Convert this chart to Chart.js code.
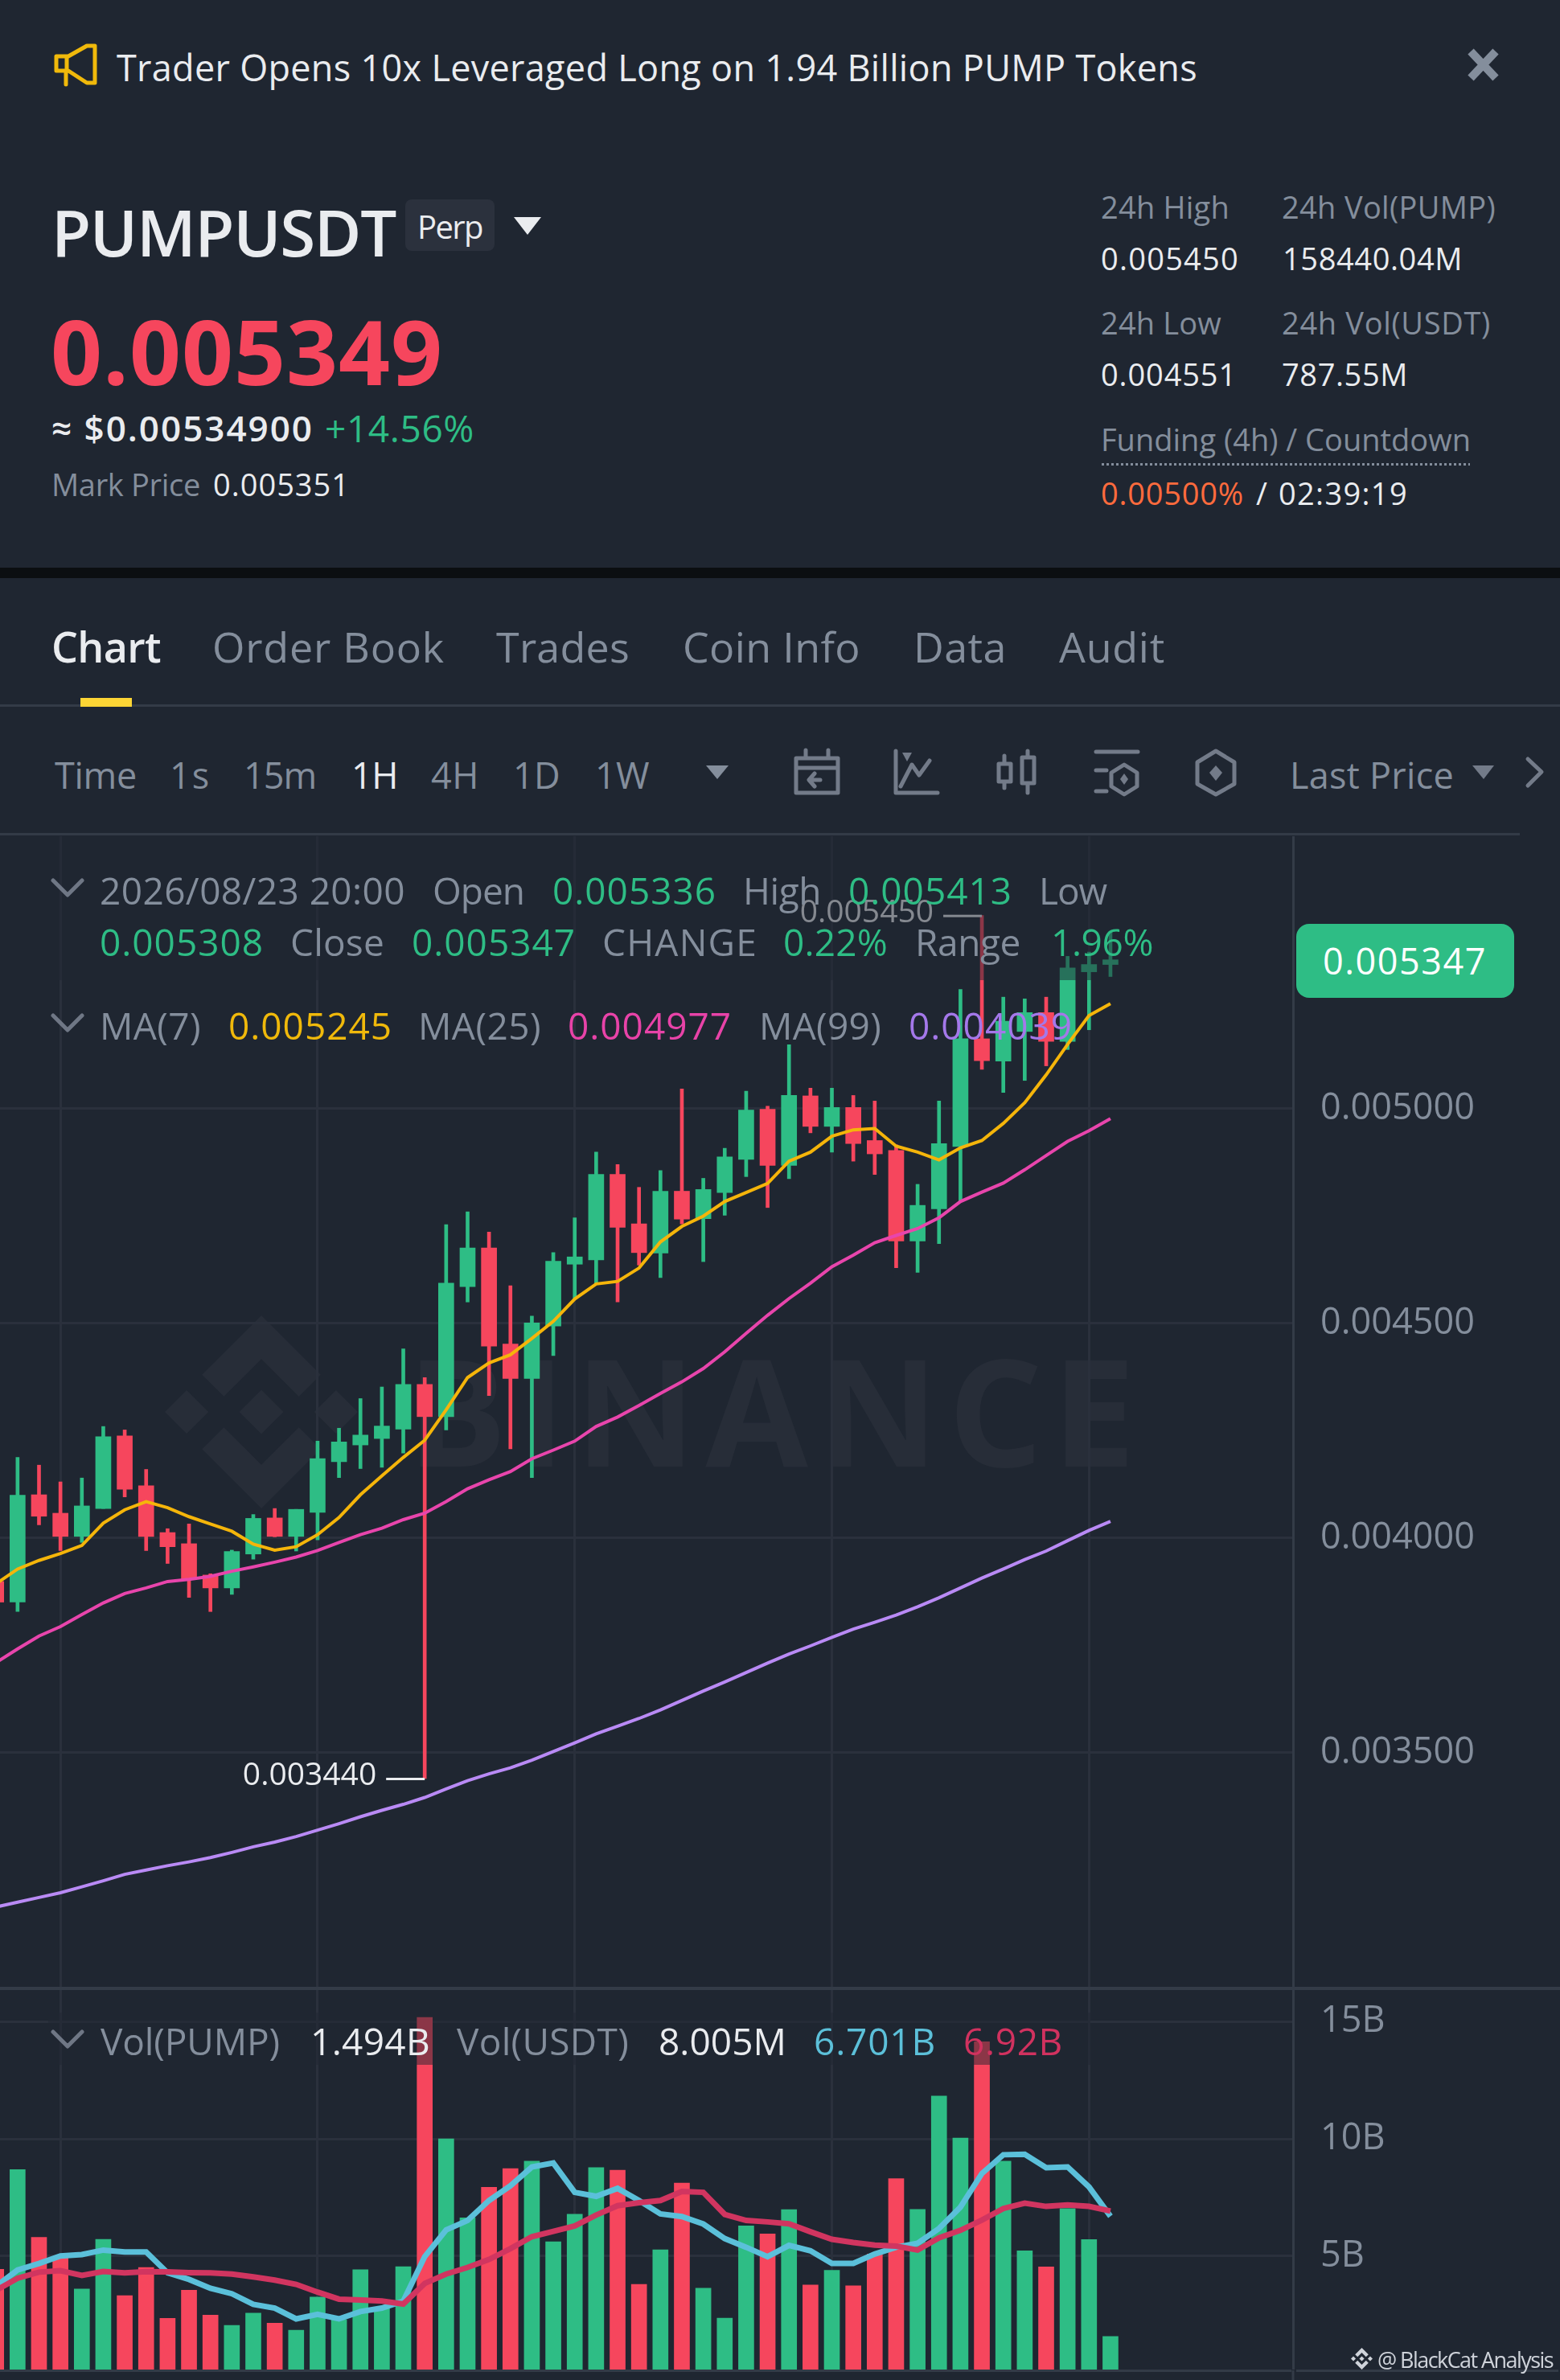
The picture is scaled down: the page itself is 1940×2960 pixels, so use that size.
<!DOCTYPE html>
<html>
<head>
<meta charset="utf-8">
<title>PUMPUSDT</title>
<script src="https://cdn.jsdelivr.net/npm/chart.js@4"></script>
<style>
    html, body { margin: 0; padding: 0; background: #1f2631; }
    #page { position: relative; width: 1940px; height: 2960px; overflow: hidden; background: #1f2631; font-family: "Open Sans", sans-serif; }
    #page canvas { position: absolute; left: 0; }
    .t { position: absolute; white-space: nowrap; line-height: 1; transform: translateY(-50%); }
    .bar { position: absolute; }
</style>
</head>
<body>
<div id="page">
    <canvas id="priceChart" width="1940" height="1432" style="top:1040px;z-index:1"></canvas>
    <canvas id="volumeChart" width="1940" height="472" style="top:2475px;z-index:1"></canvas>
    <svg id="icons" width="1940" height="2960" viewBox="0 0 1940 2960" style="position:absolute;left:0;top:0;z-index:4" fill="none" stroke-linejoin="round" stroke-linecap="round">
        <!-- notice -->
        <path d="M70 70h15L108 57h10v46h-10L85 88H70zM83 70v18M82 88v17" stroke="#f0b90b" stroke-width="5"/>
        <!-- close -->
        <path d="M1829 64l31 33M1860 64l-31 33" stroke="#848e9c" stroke-width="10" stroke-linecap="butt"/>
        <!-- symbol arrow -->
        <path d="M639 270h34l-17 22z" fill="#eaecef"/>
        <!-- toolbar -->
        <path d="M878 952h28l-14 17z" fill="#848e9c"/>
        <path d="M990 943h52v43h-52zM990 955h52M1002 933v9M1030 933v9M1020 970h-13M1013 962l-7 8 7 8" stroke="#737b89" stroke-width="5"/>
        <path d="M1114 934v52h52M1120 978l14-27 9 13 13-18" stroke="#737b89" stroke-width="5"/>
        <path d="M1122 936h12l-6 11z" fill="#737b89"/>
        <path d="M1242 950h15v22h-15zM1249 940v10M1249 972v8M1271 942h15v32h-15zM1278 934v8M1278 974v12" stroke="#737b89" stroke-width="5"/>
        <path d="M1363 935h52M1363 958h13M1363 984h13M1398 951l16 10v17l-16 10-16-10v-17z" stroke="#737b89" stroke-width="5"/>
        <path d="M1398 962l5 7-5 7-5-7z" fill="#737b89"/>
        <path d="M1512 934l23 14v27l-23 13-23-13v-27z" stroke="#737b89" stroke-width="5"/>
        <path d="M1512 952l8 9-8 10-8-10z" fill="#737b89"/>
        <path d="M1831 952h27l-13 17z" fill="#737b89"/>
        <path d="M1900 944l17 16-17 17" stroke="#737b89" stroke-width="5"/>
        <!-- legend chevrons -->
        <path d="M66 1095l18 18 18-18M66 1263l18 18 18-18M66 2527l18 18 18-18" stroke="#6f7785" stroke-width="5"/>
        <!-- funding dots -->
        <path d="M1370 577.5h458" stroke="#848e9c" stroke-width="3" stroke-dasharray="3 3" stroke-linecap="butt"/>
        <!-- axis foot -->
        <path d="M1608 2948v12" stroke="#333b47" stroke-width="3" stroke-linecap="butt"/>
    </svg>
</div>

<script>
// Candles, index 52 is 2026/08/23 20:00
const opens = [0.003899,0.003851,0.004101,0.004058,0.004004,0.004069,0.004238,0.004122,0.004013,0.003987,0.003914,0.003884,0.003963,0.004047,0.004004,0.004060,0.004178,0.004217,0.004232,0.004254,0.004358,0.004283,0.004586,0.004676,0.004452,0.004372,0.004494,0.004638,0.004648,0.004847,0.004732,0.004664,0.004808,0.004744,0.004805,0.004882,0.004999,0.004868,0.005030,0.004959,0.005003,0.004926,0.004903,0.004692,0.004767,0.004912,0.005163,0.005111,0.005180,0.005224,0.005157,0.005319,0.005336];
const highs = [0.003920,0.004188,0.004170,0.004131,0.004140,0.004260,0.004252,0.004160,0.004022,0.004033,0.003917,0.003972,0.004055,0.004069,0.004067,0.004226,0.004256,0.004325,0.004352,0.004441,0.004374,0.004730,0.004760,0.004713,0.004588,0.004517,0.004665,0.004746,0.004899,0.004870,0.004817,0.004856,0.005046,0.004838,0.004908,0.005041,0.005006,0.005149,0.005048,0.005048,0.005031,0.005018,0.004916,0.004824,0.005018,0.005278,0.005450,0.005260,0.005256,0.005260,0.005355,0.005365,0.005413];
const lows = [0.003830,0.003829,0.004031,0.003971,0.003990,0.004069,0.004096,0.003971,0.003941,0.003862,0.003829,0.003869,0.003951,0.004003,0.003970,0.003996,0.004141,0.004162,0.004165,0.004198,0.003440,0.004252,0.004550,0.004332,0.004208,0.004141,0.004425,0.004557,0.004594,0.004550,0.004636,0.004607,0.004732,0.004644,0.004752,0.004842,0.004770,0.004837,0.004944,0.004899,0.004878,0.004847,0.004630,0.004619,0.004686,0.004784,0.005092,0.005038,0.005066,0.005100,0.005138,0.005184,0.005308];
const closes = [0.003851,0.004100,0.004051,0.004004,0.004075,0.004236,0.004114,0.004004,0.003980,0.003904,0.003884,0.003969,0.004046,0.004004,0.004067,0.004185,0.004224,0.004240,0.004261,0.004358,0.004283,0.004594,0.004676,0.004447,0.004372,0.004501,0.004645,0.004655,0.004847,0.004724,0.004665,0.004808,0.004743,0.004812,0.004888,0.004997,0.004868,0.005031,0.004959,0.005003,0.004919,0.004895,0.004692,0.004775,0.004919,0.005163,0.005112,0.005204,0.005224,0.005157,0.005328,0.005336,0.005347];

const ma7 = [0.003894,0.003928,0.003948,0.003964,0.003983,0.004035,0.004066,0.004085,0.004071,0.004050,0.004033,0.004016,0.003986,0.003972,0.003980,0.004008,0.004048,0.004101,0.004145,0.004188,0.004228,0.004299,0.004374,0.004408,0.004427,0.004465,0.004505,0.004557,0.004592,0.004598,0.004629,0.004690,0.004726,0.004750,0.004784,0.004805,0.004826,0.004878,0.004899,0.004936,0.004951,0.004954,0.004913,0.004899,0.004881,0.004909,0.004926,0.004966,0.005014,0.005079,0.005150,0.005217,0.005245];
const ma25 = [0.003710,0.003742,0.003772,0.003794,0.003822,0.003849,0.003871,0.003884,0.003899,0.003904,0.003911,0.003923,0.003933,0.003944,0.003956,0.003971,0.003990,0.004008,0.004023,0.004043,0.004058,0.004085,0.004115,0.004136,0.004155,0.004185,0.004205,0.004226,0.004260,0.004282,0.004309,0.004337,0.004364,0.004395,0.004434,0.004477,0.004519,0.004558,0.004594,0.004632,0.004659,0.004688,0.004705,0.004721,0.004746,0.004784,0.004806,0.004827,0.004858,0.004891,0.004924,0.004949,0.004977];
const ma99 = [0.003141,0.003152,0.003163,0.003174,0.003188,0.003202,0.003217,0.003227,0.003237,0.003246,0.003256,0.003268,0.003281,0.003292,0.003305,0.003320,0.003335,0.003351,0.003366,0.003380,0.003396,0.003416,0.003435,0.003451,0.003465,0.003483,0.003503,0.003523,0.003544,0.003562,0.003580,0.003600,0.003622,0.003644,0.003665,0.003687,0.003709,0.003730,0.003749,0.003769,0.003788,0.003804,0.003821,0.003840,0.003861,0.003884,0.003907,0.003928,0.003950,0.003970,0.003994,0.004018,0.004039];

// Volume in billions of PUMP
const volumes = [4.44,8.69,5.80,4.92,3.60,5.72,3.32,4.52,2.35,3.55,2.49,2.05,2.57,2.15,1.85,3.26,2.29,4.42,2.81,4.55,15.17,10.00,6.63,7.93,8.73,9.05,5.61,6.79,8.77,8.66,3.80,5.27,8.11,3.64,2.36,6.29,5.95,6.98,3.77,4.40,3.74,5.09,8.30,6.99,11.82,10.03,14.13,9.05,5.23,4.54,7.03,5.71,1.58];
const volMaShort = [3.72,4.41,4.69,5.01,5.07,5.26,5.18,5.18,4.29,4.01,3.63,3.40,2.95,2.79,2.33,2.52,2.33,2.64,2.79,3.09,4.98,6.12,6.52,7.37,8.00,8.80,8.97,7.72,7.55,7.89,7.37,6.80,6.69,6.37,5.75,5.38,4.98,5.46,5.23,4.69,4.69,5.09,5.38,5.55,6.18,7.09,8.52,9.32,9.34,8.77,8.80,7.95,6.70];
const volMaLong = [3.55,4.06,4.32,4.38,4.18,4.35,4.29,4.34,4.33,4.30,4.29,4.24,4.12,3.98,3.80,3.47,3.17,3.13,3.09,2.96,3.84,4.24,4.52,4.86,5.32,5.83,6.06,6.29,6.75,7.15,7.28,7.37,7.76,7.72,6.78,6.52,6.46,6.38,6.04,5.72,5.58,5.47,5.43,5.26,5.78,6.10,6.54,7.03,7.26,7.12,7.18,7.12,6.92];

// Axis ticks
const priceTicks = [0.0035, 0.004, 0.0045, 0.005];
const priceTickLabels = ['0.003500', '0.004000', '0.004500', '0.005000'];
const volumeTicks = [5, 10, 15];
const volumeTickLabels = ['5B', '10B', '15B'];
const gridCandles = [3, 15, 27, 39, 51];

const UP = '#2ebd85', DOWN = '#f6465d', GRID = '#2a303c', AXIS = '#333b47', TICK = '#848e9c';
const WHITE = '#eaecef', GRAY = '#848e9c';
const tickFont = { family: '"Open Sans"', size: 45 };

const candleColors = opens.map((o, i) => closes[i] >= o ? UP : DOWN);
const xy = arr => arr.map((v, i) => ({ x: i, y: v }));
const span = (a, b) => a.map((v, i) => ({ x: i, y: [v, b[i]] }));

function lineSet(label, arr, color, width, order) {
    return { type: 'line', label, data: xy(arr), borderColor: color, borderWidth: width, pointRadius: 0, tension: 0, order };
}

function xScale() {
    return {
        type: 'linear', min: 0.18, max: 60.52, offset: false,
        border: { display: false },
        ticks: { display: false },
        grid: { color: GRID, lineWidth: 3, drawTicks: false, offset: false },
        afterBuildTicks: s => { s.ticks = gridCandles.map(v => ({ value: v })); }
    };
}

function yScale(min, max, values, labels, padding) {
    return {
        position: 'right', min, max,
        border: { color: AXIS, width: 3 },
        grid: { color: GRID, lineWidth: 3, drawTicks: false },
        ticks: { color: TICK, font: tickFont, padding, callback: (v, i) => labels[i] },
        afterBuildTicks: s => { s.ticks = values.map(v => ({ value: v })); },
        // the plot has to fill the canvas, no room kept for half a label
        afterFit: s => { s.width = 332; s.paddingTop = 0; s.paddingBottom = 0; }
    };
}

// high / low marker text next to the wicks
const extremeLabels = {
    id: 'extremeLabels',
    afterDatasetsDraw(chart) {
        const { ctx, scales } = chart;
        const hi = highs.indexOf(Math.max(...highs));
        const lo = lows.indexOf(Math.min(...lows));
        ctx.save();
        ctx.font = '39px "Open Sans"';
        ctx.textAlign = 'right';
        ctx.textBaseline = 'middle';
        ctx.fillStyle = WHITE;
        [[hi, highs[hi]], [lo, lows[lo]]].forEach(([i, v]) => {
            const x = scales.x.getPixelForValue(i);
            const y = scales.y.getPixelForValue(v);
            ctx.fillRect(x - 48, y - 1, 48, 3);
            ctx.fillText(v.toFixed(6), x - 60, y - 3);
        });
        ctx.restore();
    }
};

new Chart(document.getElementById('priceChart'), {
    type: 'bar',
    data: {
        datasets: [
            { label: 'Wick', data: span(lows, highs), backgroundColor: candleColors, barThickness: 4, grouped: false, order: 5 },
            { label: 'Body', data: span(opens, closes), backgroundColor: candleColors, barThickness: 19, grouped: false, order: 4 },
            lineSet('MA(99)', ma99, '#b98af5', 4, 3),
            lineSet('MA(25)', ma25, '#e845ac', 4, 2),
            lineSet('MA(7)', ma7, '#f5b50a', 4, 1)
        ]
    },
    options: {
        responsive: false, animation: false, devicePixelRatio: 1,
        layout: { padding: 0 },
        plugins: { legend: { display: false }, tooltip: { enabled: false } },
        scales: { x: xScale(), y: yScale(0.0029531, 0.0056348, priceTicks, priceTickLabels, 34) }
    },
    plugins: [extremeLabels]
});

new Chart(document.getElementById('volumeChart'), {
    type: 'bar',
    data: {
        datasets: [
            { label: 'Vol(PUMP)', data: xy(volumes), backgroundColor: candleColors, barThickness: 19, grouped: false, order: 3 },
            lineSet('MA short', volMaShort, '#5bc0da', 7, 2),
            lineSet('MA long', volMaLong, '#d13560', 7, 1)
        ]
    },
    options: {
        responsive: false, animation: false, devicePixelRatio: 1,
        layout: { padding: 0 },
        plugins: { legend: { display: false }, tooltip: { enabled: false } },
        scales: { x: xScale(), y: yScale(0.171, 16.336, volumeTicks, volumeTickLabels, 34) }
    }
});

// Page furniture around the charts
const page = document.getElementById('page');

function box(x, y, w, h, bg, z, radius) {
    const d = document.createElement('div');
    d.className = 'bar';
    d.style.cssText = `left:${x}px;top:${y}px;width:${w}px;height:${h}px;background:${bg};z-index:${z};border-radius:${radius || 0}px`;
    page.appendChild(d);
}

// w is the width the text has in the reference, letter spacing takes up the rest
function txt(s, x, cy, size, color, w, weight, z = 3) {
    const d = document.createElement('div');
    d.className = 't';
    d.textContent = s;
    d.style.cssText = `left:${x}px;top:${cy}px;font-size:${size}px;color:${color};font-weight:${weight || 400};z-index:${z}`;
    page.appendChild(d);
    if (w) d.style.letterSpacing = ((w - d.getBoundingClientRect().width) / s.length) + 'px';
}

// watermark, under the canvases
const mark = document.createElementNS('http://www.w3.org/2000/svg', 'svg');
mark.setAttribute('viewBox', '0 0 126.61 126.61');
mark.setAttribute('style', 'position:absolute;left:205px;top:1636px;width:240px;height:240px;z-index:0');
mark.innerHTML = '<path fill="#272d38" d="M38.73 53.2l24.59-24.58 24.6 24.6 14.3-14.31L63.32 0 24.43 38.9zM0 63.31L14.3 49l14.31 14.31-14.31 14.3zm38.73 10.11l24.59 24.59 24.6-24.6 14.31 14.29-38.9 38.91-38.91-38.88-.02-.02zm59.27-10.1l14.3-14.31 14.3 14.3-14.3 14.3zM77.83 63.3L63.32 48.78 52.59 59.51l-1.24 1.23-2.54 2.54 14.51 14.5 14.5-14.47z"/>';
page.appendChild(mark);
txt('BINANCE', 506, 1752, 185, '#272d38', 918, 700, 0);

// dim strips the legends sit on
box(60, 1040, 1380, 179, 'rgba(31,38,49,0.5)', 2);
box(60, 2503, 1296, 65, 'rgba(31,38,49,0.5)', 2);

// separators
box(0, 706, 1940, 13, '#0b0e11', 2);
box(0, 876, 1940, 3, AXIS, 2);
box(100, 868, 64, 11, '#fcd535', 3);
box(0, 1036, 1890, 3, AXIS, 2);
box(0, 2471, 1940, 4, AXIS, 2);
box(0, 2947, 1606, 3, AXIS, 2);
box(1612, 2947, 326, 3, AXIS, 2);
box(504, 248, 111, 64, '#2b313d', 2, 8);
box(1612, 1149, 271, 92, UP, 2, 16);

// notice
txt('Trader Opens 10x Leveraged Long on 1.94 Billion PUMP Tokens', 145, 83, 45, WHITE, 1344);

// ticker
txt('PUMPUSDT', 64, 288, 80, WHITE, 428, 600);
txt('Perp', 519, 282, 40, WHITE, 81);
txt('0.005349', 63, 436, 112, DOWN, 488, 700);
txt('≈ $0.00534900', 64, 532, 44, WHITE, 326, 600);
txt('+14.56%', 404, 532, 46, UP, 186, 500);
txt('Mark Price', 64, 602, 38, GRAY, 185);
txt('0.005351', 265, 602, 38, WHITE, 170);
txt('24h High', 1369, 257, 38, GRAY, 160);
txt('24h Vol(PUMP)', 1594, 257, 38, GRAY, 266);
txt('0.005450', 1369, 321, 38, WHITE, 172);
txt('158440.04M', 1595, 321, 38, WHITE, 224);
txt('24h Low', 1369, 401, 38, GRAY, 150);
txt('24h Vol(USDT)', 1594, 401, 38, GRAY, 260);
txt('0.004551', 1369, 465, 38, WHITE, 169);
txt('787.55M', 1594, 465, 38, WHITE, 157);
txt('Funding (4h) / Countdown', 1369, 546, 38, GRAY, 460);
txt('0.00500%', 1369, 613, 38, '#ff6b3d', 178);
txt('/', 1562, 613, 38, WHITE);
txt('02:39:19', 1590, 613, 38, WHITE, 161);

// tabs
txt('Chart', 64, 804, 52, WHITE, 136, 600);
txt('Order Book', 264, 804, 52, GRAY, 289);
txt('Trades', 617, 804, 52, GRAY, 166);
txt('Coin Info', 849, 804, 52, GRAY, 221);
txt('Data', 1136, 804, 52, GRAY, 116);
txt('Audit', 1317, 804, 52, GRAY, 132);

// toolbar
txt('Time', 68, 963, 45, GRAY, 102);
txt('1s', 211, 963, 45, GRAY, 51);
txt('15m', 303, 963, 45, GRAY, 90);
txt('1H', 437, 963, 45, WHITE, 58);
txt('4H', 536, 963, 45, GRAY, 60);
txt('1D', 638, 963, 45, GRAY, 59);
txt('1W', 740, 963, 45, GRAY, 68);
txt('Last Price', 1604, 963, 45, GRAY, 204);

// price legend
txt('2026/08/23 20:00', 124, 1107, 46, GRAY, 380);
txt('Open', 538, 1107, 46, GRAY, 114);
txt('0.005336', 687, 1107, 46, UP, 204);
txt('High', 924, 1107, 46, GRAY, 97);
txt('0.005413', 1055, 1107, 46, UP, 204);
txt('Low', 1292, 1107, 46, GRAY, 84);
txt('0.005308', 124, 1171, 46, UP, 204);
txt('Close', 361, 1171, 46, GRAY, 117);
txt('0.005347', 512, 1171, 46, UP, 204);
txt('CHANGE', 749, 1171, 46, GRAY, 193);
txt('0.22%', 974, 1171, 46, UP, 130);
txt('Range', 1138, 1171, 46, GRAY, 131);
txt('1.96%', 1307, 1171, 46, UP, 127);
txt('MA(7)', 124, 1275, 46, GRAY, 126);
txt('0.005245', 284, 1275, 46, '#f0b90b', 204);
txt('MA(25)', 520, 1275, 46, GRAY, 153);
txt('0.004977', 706, 1275, 46, '#e843a8', 204);
txt('MA(99)', 944, 1275, 46, GRAY, 152);
txt('0.004039', 1130, 1275, 46, '#a478ea', 204);

// last price tag
txt('0.005347', 1645, 1194, 45, '#ffffff', 204);

// volume legend
txt('Vol(PUMP)', 125, 2538, 46, GRAY, 223);
txt('1.494B', 386, 2538, 46, WHITE, 149);
txt('Vol(USDT)', 568, 2538, 46, GRAY, 214);
txt('8.005M', 819, 2538, 46, WHITE, 159);
txt('6.701B', 1012, 2538, 46, '#5cc0d9', 152);
txt('6.92B', 1198, 2538, 46, '#d1325f', 124);

// small credit, bottom right
const credit = mark.cloneNode(true);
credit.setAttribute('style', 'position:absolute;left:1680px;top:2920px;width:27px;height:27px;z-index:3');
credit.querySelector('path').setAttribute('fill', '#cfd3da');
page.appendChild(credit);
txt('@ BlackCat Analysis', 1713, 2934, 27, '#cfd3da', 218);
</script>
</body>
</html>
